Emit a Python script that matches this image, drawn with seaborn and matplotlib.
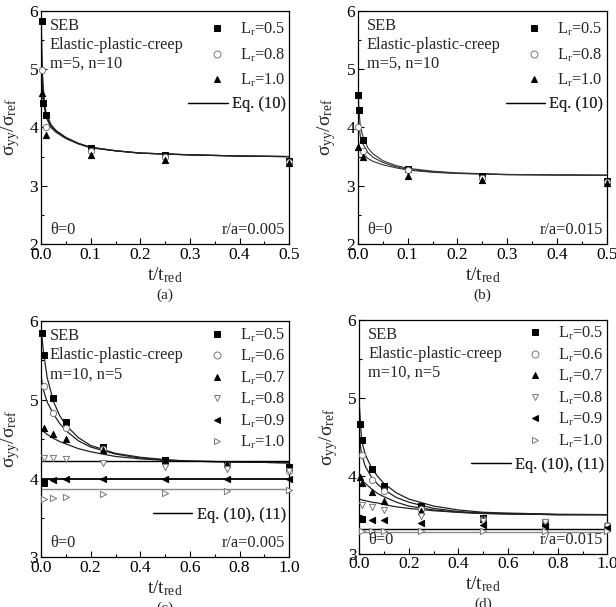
import matplotlib
matplotlib.use("Agg")
import matplotlib.pyplot as plt
from matplotlib.lines import Line2D
from matplotlib.ticker import MultipleLocator
import seaborn as sns

# ---- panel (a): m=5, n=10, r/a=0.005 ----
a_t_05 = [0.001, 0.003, 0.01, 0.1, 0.25, 0.5]
a_v_05 = [5.82, 4.42, 4.21, 3.65, 3.52, 3.42]
a_t_08 = [0.001, 0.01, 0.1, 0.25, 0.5]
a_v_08 = [4.99, 4.00, 3.60, 3.50, 3.41]
a_t_10 = [0.001, 0.01, 0.1, 0.25, 0.5]
a_v_10 = [4.60, 3.87, 3.52, 3.45, 3.39]
a_fit_t = [0, 0.001, 0.003, 0.006, 0.01, 0.02, 0.03, 0.05, 0.075, 0.1, 0.15, 0.2, 0.3, 0.4, 0.5]
a_fit_05 = [6.4, 5.6, 4.9, 4.5, 4.25, 4.05, 3.95, 3.83, 3.73, 3.66, 3.6, 3.56, 3.53, 3.51, 3.5]
a_fit_08 = [5.6, 5.2, 4.75, 4.45, 4.22, 4.03, 3.94, 3.82, 3.72, 3.66, 3.6, 3.56, 3.53, 3.51, 3.5]
a_fit_10 = [5.2, 4.9, 4.6, 4.38, 4.18, 4.0, 3.92, 3.81, 3.72, 3.65, 3.6, 3.56, 3.53, 3.51, 3.5]

# ---- panel (b): m=5, n=10, r/a=0.015 ----
b_t_05 = [0.001, 0.003, 0.01, 0.1, 0.25, 0.5]
b_v_05 = [4.56, 4.30, 3.79, 3.29, 3.16, 3.08]
b_t_08 = [0.001, 0.01, 0.1, 0.25, 0.5]
b_v_08 = [4.00, 3.59, 3.27, 3.13, 3.07]
b_t_10 = [0.001, 0.01, 0.1, 0.25, 0.5]
b_v_10 = [3.67, 3.50, 3.17, 3.09, 3.05]
b_fit_t = [0, 0.002, 0.005, 0.01, 0.02, 0.03, 0.05, 0.075, 0.1, 0.15, 0.2, 0.3, 0.4, 0.5]
b_fit_05 = [4.78, 4.3, 4.02, 3.85, 3.65, 3.55, 3.43, 3.35, 3.30, 3.25, 3.22, 3.195, 3.185, 3.18]
b_fit_08 = [4.3, 4.05, 3.85, 3.72, 3.57, 3.49, 3.40, 3.33, 3.28, 3.24, 3.215, 3.19, 3.185, 3.18]
b_fit_10 = [3.8, 3.72, 3.62, 3.55, 3.47, 3.42, 3.36, 3.31, 3.27, 3.23, 3.21, 3.19, 3.185, 3.18]

# ---- panel (c): m=10, n=5, r/a=0.005 ----
c_t_05 = [0.003, 0.01, 0.05, 0.1, 0.25, 0.5, 0.75, 1.0, 0.01]
c_v_05 = [5.85, 5.57, 5.02, 4.72, 4.40, 4.23, 4.18, 4.14, 3.94]
c_t_06 = [0.01, 0.05, 0.1, 0.25, 0.5, 0.75, 1.0]
c_v_06 = [5.17, 4.83, 4.64, 4.38, 4.20, 4.17, 4.10]
c_t_07 = [0.01, 0.05, 0.1, 0.25, 0.5, 0.75, 1.0]
c_v_07 = [4.64, 4.56, 4.50, 4.36, 4.23, 4.19, 4.16]
c_t_08 = [0.01, 0.05, 0.1, 0.25, 0.5, 0.75, 1.0]
c_v_08 = [4.26, 4.26, 4.25, 4.20, 4.15, 4.12, 4.10]
c_t_09 = [0.05, 0.1, 0.25, 0.5, 0.75, 1.0]
c_v_09 = [3.98, 3.99, 4.00, 4.00, 4.00, 4.00]
c_t_10 = [0.01, 0.05, 0.1, 0.25, 0.5, 0.75, 1.0]
c_v_10 = [3.74, 3.75, 3.77, 3.80, 3.82, 3.84, 3.85]
c_fit_t = [0, 0.01, 0.025, 0.05, 0.075, 0.1, 0.15, 0.2, 0.3, 0.4, 0.5, 0.6, 0.8, 1.0]
c_fit_05 = [5.92, 5.60, 5.28, 4.98, 4.80, 4.68, 4.52, 4.42, 4.32, 4.27, 4.24, 4.22, 4.21, 4.2]
c_fit_06 = [5.3, 5.12, 4.97, 4.82, 4.70, 4.61, 4.48, 4.40, 4.31, 4.26, 4.235, 4.22, 4.21, 4.2]
c_fit_07 = [4.62, 4.60, 4.56, 4.51, 4.47, 4.44, 4.38, 4.34, 4.28, 4.25, 4.23, 4.22, 4.21, 4.2]
c_flat_t = [0, 1.0]
c_flat_08 = [4.22, 4.22]
c_flat_09 = [4.00, 4.00]
c_flat_10 = [3.87, 3.87]

# ---- panel (d): m=10, n=5, r/a=0.015 ----
d_t_05 = [0.003, 0.01, 0.05, 0.1, 0.25, 0.5, 0.75, 1.0, 0.01]
d_v_05 = [4.66, 4.46, 4.08, 3.87, 3.61, 3.46, 3.39, 3.33, 3.44]
d_t_06 = [0.01, 0.05, 0.1, 0.25, 0.5, 0.75, 1.0]
d_v_06 = [4.27, 3.95, 3.80, 3.57, 3.44, 3.41, 3.37]
d_t_07 = [0.003, 0.01, 0.05, 0.1, 0.25, 0.5, 0.75, 1.0]
d_v_07 = [3.98, 3.90, 3.79, 3.68, 3.55, 3.45, 3.40, 3.35]
d_t_08 = [0.01, 0.05, 0.1, 0.25, 0.5, 0.75, 1.0]
d_v_08 = [3.63, 3.60, 3.56, 3.48, 3.42, 3.40, 3.36]
d_t_09 = [0.05, 0.1, 0.25, 0.5, 0.75, 1.0]
d_v_09 = [3.43, 3.43, 3.39, 3.37, 3.36, 3.33]
d_t_10 = [0.01, 0.05, 0.1, 0.25, 0.5, 0.75, 1.0]
d_v_10 = [3.29, 3.29, 3.29, 3.29, 3.29, 3.29, 3.29]
d_fit_t = [0, 0.01, 0.025, 0.05, 0.075, 0.1, 0.15, 0.2, 0.3, 0.4, 0.5, 0.6, 0.8, 1.0]
d_fit_05 = [4.95, 4.45, 4.27, 4.10, 3.99, 3.90, 3.78, 3.70, 3.61, 3.56, 3.53, 3.52, 3.505, 3.5]
d_fit_06 = [4.5, 4.27, 4.12, 3.98, 3.89, 3.82, 3.72, 3.66, 3.58, 3.54, 3.52, 3.51, 3.50, 3.5]
d_fit_07 = [4.02, 3.95, 3.90, 3.83, 3.77, 3.73, 3.66, 3.61, 3.56, 3.53, 3.515, 3.51, 3.50, 3.5]
d_fit_08 = [3.70, 3.69, 3.68, 3.66, 3.65, 3.63, 3.60, 3.58, 3.55, 3.53, 3.515, 3.51, 3.50, 3.5]
d_flat_t = [0, 1.0]
d_flat_09 = [3.32, 3.32]
d_flat_10 = [3.28, 3.28]

# marker styles per Lr: (marker, face, edge)
styles = {
    "0.5": ("s", "black", "black"),
    "0.6": ("o", "white", "#777777"),
    "0.7": ("^", "black", "black"),
    "0.8": ("v", "white", "#777777"),
    "0.9": ("<", "black", "black"),
    "1.0": (">", "white", "#777777"),
}
styles_ab = {
    "0.5": ("s", "black", "black"),
    "0.8": ("o", "white", "#777777"),
    "1.0": ("^", "black", "black"),
}

sns.set_theme(style="ticks")
plt.rcParams["font.family"] = ["Liberation Serif", "DejaVu Serif"]
plt.rcParams["mathtext.fontset"] = "custom"
plt.rcParams["mathtext.rm"] = "Liberation Serif"
plt.rcParams["mathtext.it"] = "Liberation Serif:italic"
plt.rcParams["axes.linewidth"] = 0.9

FS = 11.8
fig = plt.figure(figsize=(6.16, 6.07), dpi=100)
ax_a = fig.add_axes([0.0666, 0.598, 0.403, 0.384])
ax_b = fig.add_axes([0.581, 0.598, 0.404, 0.384])
ax_c = fig.add_axes([0.0666, 0.082, 0.403, 0.389])
ax_d = fig.add_axes([0.583, 0.088, 0.403, 0.385])


def draw_points(ax, series, sty):
    for lr, t, v in series:
        m, fc, ec = sty[lr]
        sns.scatterplot(x=t, y=v, ax=ax, marker=m, s=20, color=fc,
                        edgecolor=ec, linewidth=0.7, zorder=3, clip_on=False)


def draw_lines(ax, t, curves, color="#222222", lw=0.9):
    for v in curves:
        sns.lineplot(x=t, y=v, ax=ax, color=color, lw=lw, estimator=None,
                     sort=False, zorder=2)


def style_axis(ax, xmax, xmaj, ymin, label, label_y):
    ax.set_xlim(0, xmax)
    ax.set_ylim(ymin, 6)
    ax.xaxis.set_major_locator(MultipleLocator(xmaj))
    ax.xaxis.set_minor_locator(MultipleLocator(xmaj / 2))
    ax.yaxis.set_major_locator(MultipleLocator(1))
    ax.yaxis.set_minor_locator(MultipleLocator(0.5))
    ax.tick_params(which="both", direction="in", labelsize=12.5, pad=2,
                   colors="black", width=0.8)
    ax.tick_params(which="major", length=4)
    ax.tick_params(which="minor", length=2)
    ax.xaxis.set_major_formatter(plt.FormatStrFormatter("%.1f"))
    ax.yaxis.set_major_formatter(plt.FormatStrFormatter("%d"))
    for s in ax.spines.values():
        s.set_visible(True)
        s.set_color("black")
    ax.set_xlabel(r"t/t$_{\mathrm{red}}$", fontsize=14)
    ax.set_ylabel(r"σ$_{\mathrm{yy}}$/σ$_{\mathrm{ref}}$", fontsize=14)
    ax.yaxis.set_label_coords(-0.078, 0.5)
    ax.xaxis.set_label_coords(0.5, -0.09)
    ax.text(0.5, label_y, label, transform=ax.transAxes, ha="center",
            va="center", fontsize=11)


def add_texts(ax, mn, ra):
    kw = dict(transform=ax.transAxes, fontsize=FS, va="center")
    ax.text(0.036, 0.935, "SEB", **kw)
    ax.text(0.036, 0.855, "Elastic-plastic-creep", **kw)
    ax.text(0.036, 0.774, mn, **kw)
    ax.text(0.036, 0.06, r"θ=0", **kw)
    ax.text(0.984, 0.06, ra, ha="right", transform=ax.transAxes,
            fontsize=FS, va="center")


def add_legends(ax, lrs, sty, eq_text, top_y, eq_y, spacing):
    handles = []
    for lr in lrs:
        m, fc, ec = sty[lr]
        handles.append(Line2D([], [], ls="none", marker=m, markersize=5,
                              markerfacecolor=fc, markeredgecolor=ec,
                              markeredgewidth=0.7))
    labels = [r"L$_{\mathrm{r}}$=" + lr for lr in lrs]
    leg = ax.legend(handles, labels, loc="upper right",
                    bbox_to_anchor=(0.99, top_y), frameon=False, fontsize=FS,
                    handlelength=1.0, handletextpad=0.9, labelspacing=spacing,
                    borderaxespad=0, borderpad=0.1)
    ax.add_artist(leg)
    eq = Line2D([], [], color="black", lw=0.9)
    leg2 = ax.legend([eq], [eq_text], loc="upper right",
                     bbox_to_anchor=(0.992, eq_y), frameon=False, fontsize=FS,
                     handlelength=2.4, handletextpad=0.25, borderaxespad=0,
                     borderpad=0.1)
    ax.add_artist(leg2)


# (a)
draw_lines(ax_a, a_fit_t, [a_fit_05, a_fit_08, a_fit_10])
draw_points(ax_a, [("0.5", a_t_05, a_v_05), ("0.8", a_t_08, a_v_08),
                   ("1.0", a_t_10, a_v_10)], styles_ab)
style_axis(ax_a, 0.5, 0.1, 2, "(a)", -0.22)
add_texts(ax_a, "m=5, n=10", "r/a=0.005")
add_legends(ax_a, ["0.5", "0.8", "1.0"], styles_ab, "Eq. (10)", 0.965, 0.64, 0.5)

# (b)
draw_lines(ax_b, b_fit_t, [b_fit_05, b_fit_08, b_fit_10], color="#333333", lw=0.8)
draw_points(ax_b, [("0.5", b_t_05, b_v_05), ("0.8", b_t_08, b_v_08),
                   ("1.0", b_t_10, b_v_10)], styles_ab)
style_axis(ax_b, 0.5, 0.1, 2, "(b)", -0.22)
add_texts(ax_b, "m=5, n=10", "r/a=0.015")
add_legends(ax_b, ["0.5", "0.8", "1.0"], styles_ab, "Eq. (10)", 0.965, 0.64, 0.5)

# (c)
draw_lines(ax_c, c_fit_t, [c_fit_05, c_fit_06, c_fit_07])
draw_lines(ax_c, c_flat_t, [c_flat_08], color="black", lw=1.0)
draw_lines(ax_c, c_flat_t, [c_flat_09], color="black", lw=1.3)
draw_lines(ax_c, c_flat_t, [c_flat_10], color="#888888", lw=1.0)
draw_points(ax_c, [("0.5", c_t_05, c_v_05), ("0.6", c_t_06, c_v_06),
                   ("0.7", c_t_07, c_v_07), ("0.8", c_t_08, c_v_08),
                   ("0.9", c_t_09, c_v_09), ("1.0", c_t_10, c_v_10)], styles)
style_axis(ax_c, 1.0, 0.2, 3, "(c)", -0.215)
add_texts(ax_c, "m=10, n=5", "r/a=0.005")
add_legends(ax_c, ["0.5", "0.6", "0.7", "0.8", "0.9", "1.0"], styles,
            "Eq. (10), (11)", 0.985, 0.22, 0.25)

# (d)
draw_lines(ax_d, d_fit_t, [d_fit_05, d_fit_06, d_fit_07, d_fit_08])
draw_lines(ax_d, d_flat_t, [d_flat_09], color="black", lw=1.0)
draw_lines(ax_d, d_flat_t, [d_flat_10], color="#888888", lw=1.0)
draw_points(ax_d, [("0.5", d_t_05, d_v_05), ("0.6", d_t_06, d_v_06),
                   ("0.7", d_t_07, d_v_07), ("0.8", d_t_08, d_v_08),
                   ("0.9", d_t_09, d_v_09), ("1.0", d_t_10, d_v_10)], styles)
style_axis(ax_d, 1.0, 0.2, 3, "(d)", -0.215)
add_texts(ax_d, "m=10, n=5", "r/a=0.015")
add_legends(ax_d, ["0.5", "0.6", "0.7", "0.8", "0.9", "1.0"], styles,
            "Eq. (10), (11)", 0.985, 0.42, 0.25)

fig.savefig("out.png", dpi=100)
